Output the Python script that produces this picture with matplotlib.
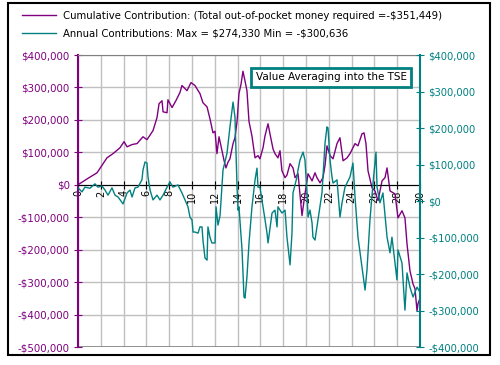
import matplotlib
matplotlib.use("Agg")
import matplotlib.pyplot as plt
from matplotlib.lines import Line2D
from matplotlib.patches import Rectangle
from matplotlib.ticker import FuncFormatter, MultipleLocator

# Cumulative contribution (left axis)
cum_years = [0.00, 0.79, 1.67, 2.54, 3.07, 3.68, 4.04, 4.30, 4.74, 5.18, 5.70, 6.05, 6.58, 6.93,
             7.11, 7.37, 7.46, 7.81, 7.89, 8.25, 8.60, 8.95, 9.12, 9.56, 9.91, 10.26, 10.70, 10.96,
             11.32, 11.58, 11.84, 12.02, 12.19, 12.37, 12.63, 12.81, 12.98, 13.16, 13.33, 13.60,
             13.77, 13.95, 14.12, 14.30, 14.47, 14.65, 14.82, 15.00, 15.26, 15.53, 15.79, 15.96,
             16.23, 16.40, 16.58, 16.67, 16.84, 17.11, 17.28, 17.54, 17.72, 17.89, 18.16, 18.33,
             18.60, 18.86, 19.04, 19.30, 19.65, 19.91, 20.18, 20.53, 20.79, 20.96, 21.23, 21.49,
             21.67, 21.84, 22.11, 22.37, 22.72, 22.98, 23.25, 23.60, 23.86, 24.30, 24.56, 24.91,
             25.09, 25.26, 25.44, 25.79, 26.05, 26.32, 26.67, 26.93, 27.11, 27.37, 27.81, 28.07,
             28.42, 28.68, 28.86, 29.12, 29.39, 29.56, 29.74, 29.82, 30.00]
cum_values = [0, 18, 37, 83, 96, 114, 133, 117, 124, 127, 148, 139, 167, 207,
              250, 259, 225, 222, 262, 238, 260, 285, 306, 290, 315, 306, 281, 253,
              240, 203, 160, 165, 96, 148, 105, 75, 52, 70, 80, 127,
              145, 195, 281, 310, 350, 320, 290, 195, 150, 83, 90, 80,
              114, 150, 176, 188, 157, 110, 96, 83, 105, 43, 22, 30,
              65, 52, 22, 34, -95, -28, 34, 12, 37, 22, 6, 22,
              60, 120, 90, 80, 127, 145, 74, 83, 96, 127, 120, 157,
              160, 127, 43, -9, -19, -49, 12, 22, 52, -19, -28, -102,
              -80, -102, -182, -265, -306, -320, -389, -367, -350]

# Annual contributions (right axis)
ann_years = [0.00, 0.35, 0.61, 1.05, 1.49, 1.75, 2.11, 2.37, 2.63, 2.98, 3.25, 3.51, 3.95, 4.30,
             4.56, 4.74, 5.00, 5.26, 5.61, 5.70, 5.88, 6.05, 6.14, 6.32, 6.58, 6.93, 7.19, 7.46,
             7.81, 8.07, 8.33, 8.77, 9.12, 9.39, 9.65, 9.82, 10.00, 10.09, 10.26, 10.53, 10.70,
             10.88, 10.96, 11.14, 11.32, 11.40, 11.58, 11.75, 12.02, 12.11, 12.28, 12.46, 12.72,
             13.07, 13.33, 13.60, 13.77, 13.95, 14.04, 14.12, 14.39, 14.56, 14.65, 14.82, 15.00,
             15.26, 15.53, 15.70, 15.79, 15.96, 16.23, 16.40, 16.58, 16.67, 17.02, 17.28, 17.46,
             17.54, 17.89, 18.16, 18.33, 18.60, 18.77, 18.86, 19.21, 19.30, 19.47, 19.74, 19.91,
             20.09, 20.18, 20.35, 20.53, 20.61, 20.79, 21.05, 21.40, 21.49, 21.67, 21.84, 21.93,
             22.11, 22.28, 22.37, 22.72, 22.98, 23.16, 23.42, 23.86, 24.12, 24.30, 24.56, 24.91,
             25.18, 25.35, 25.61, 25.88, 26.14, 26.23, 26.49, 26.75, 27.11, 27.37, 27.54, 27.98,
             28.07, 28.42, 28.68, 28.86, 29.12, 29.39, 29.74, 30.00]
ann_values = [36, 25, 38, 35, 47, 38, 41, 30, 16, 36, 16, 11, -8, 22,
              30, 11, 36, 38, 58, 85, 107, 104, 66, 30, 3, 16, 3, 16,
              38, 52, 38, 44, 22, 3, -16, -44, -52, -85, -85, -88, -71,
              -71, -107, -156, -162, -71, -100, -115, -115, -16, -66, -40, 85,
              131, 203, 271, 230, 38, -25, -16, -134, -263, -266, -208, -115,
              -16, 58, 90, 38, 38, -16, -50, -88, -115, -33, -25, -71,
              -16, -33, -25, -99, -175, -88, 22, 66, 85, 112, 134, 112,
              22, -44, -25, -60, -99, -107, -52, 22, 66, 159, 203, 200,
              112, 66, 49, 58, -44, -5, 38, 66, 104, 11, -99, -181,
              -244, -189, -52, 49, 134, 38, -5, 22, -99, -142, -99, -216,
              -134, -170, -299, -197, -236, -263, -236, -250]

legend_labels = [r"Cumulative Contribution: (Total out-of-pocket money required =-\$351,449)",
                 r"Annual Contributions: Max = \$274,330 Min = -\$300,636"]
title_text = "Value Averaging into the TSE"

purple = "#800080"
teal = "#008080"


def money(v, pos):
    if v < 0:
        return "-${:,.0f}".format(abs(v))
    return "${:,.0f}".format(v)


plt.rcParams['font.family'] = 'DejaVu Sans'
fig = plt.figure(figsize=(5.0, 3.65), dpi=100)
ax = fig.add_axes([0.156, 0.0493, 0.684, 0.8])
ax2 = ax.twinx()

ax.plot(cum_years, [v * 1000 for v in cum_values], color=purple, lw=1)
ax2.plot(ann_years, [v * 1000 for v in ann_values], color=teal, lw=1)

ax.set_xlim(0, 30)
ax.set_ylim(-500000, 400000)
ax2.set_ylim(-400000, 400000)

ax.xaxis.set_major_locator(MultipleLocator(2))
ax.yaxis.set_major_locator(MultipleLocator(100000))
ax2.yaxis.set_major_locator(MultipleLocator(100000))
ax.yaxis.set_major_formatter(FuncFormatter(money))
ax2.yaxis.set_major_formatter(FuncFormatter(money))

ax.grid(True, color="#c0c0c0", lw=1)
ax.set_axisbelow(True)

# x axis sits at zero with rotated labels under it
ax.spines['bottom'].set_position(('data', 0))
ax.spines['bottom'].set_color('black')
ax.spines['top'].set_color('#808080')
ax.spines['right'].set_visible(False)
ax.spines['left'].set_color(purple)
ax.spines['left'].set_linewidth(1.5)
ax.axhline(-500000, color='#808080', lw=1.2)
for s in ['left', 'top', 'bottom']:
    ax2.spines[s].set_visible(False)
ax2.spines['right'].set_color(teal)
ax2.spines['right'].set_linewidth(1.5)

ax.tick_params(axis='x', direction='inout', length=6, colors='black', labelsize=7,
               labelrotation=90, pad=1)
ax.tick_params(axis='y', direction='inout', length=6, color=purple, labelcolor=purple,
               labelsize=7.4, pad=3)
ax2.tick_params(axis='y', direction='inout', length=6, color=teal, labelcolor=teal,
                labelsize=7.2, pad=3)

ax.text(0.74, 0.923, title_text, transform=ax.transAxes, ha='center', va='center',
        fontsize=7.5, zorder=10,
        bbox=dict(boxstyle='square,pad=0.45', fc='white', ec=teal, lw=2))

handles = [Line2D([], [], color=purple, lw=1), Line2D([], [], color=teal, lw=1)]
fig.legend(handles, legend_labels, loc='upper left', bbox_to_anchor=(0.03, 0.99),
           frameon=False, fontsize=7.3, handlelength=3.3, handletextpad=0.7,
           labelspacing=0.75, borderaxespad=0.3)

fig.patches.append(Rectangle((0.016, 0.027), 0.964, 0.965, transform=fig.transFigure,
                             fill=False, ec='black', lw=1.5))

fig.savefig("out.png", dpi=100)
